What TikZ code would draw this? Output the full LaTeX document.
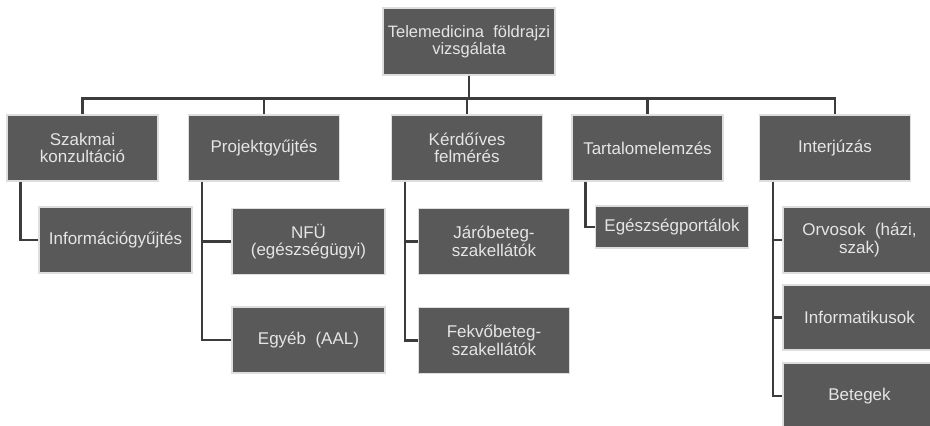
\documentclass[tikz,border=0pt]{standalone}
\usepackage{fontspec}
\setmainfont{Liberation Sans}
\usepackage{tikz}
\usetikzlibrary{calc}
\definecolor{boxgray}{HTML}{595959}
\definecolor{linkgray}{HTML}{3C3C3C}
\def\drawlink{\draw[link]}
\def\boxnode{\node[box]}

\begin{document}
\begin{tikzpicture}[x=1pt,y=-1pt,
  box/.style={rectangle,fill=boxgray,draw=black!13,line width=1.2pt,
    text=white!90!black,align=center,inner sep=1pt,
    minimum width=151pt,minimum height=66pt,
    font=\fontsize{17}{17.5}\selectfont},
  wide/.style={minimum width=153pt},
  link/.style={color=linkgray,line width=2.5pt}]
\useasboundingbox[fill=white] (0,0) rectangle (930,426);

% -------- top ---------
\boxnode[minimum width=172pt,minimum height=67pt,font=\fontsize{16.5}{17.5}\selectfont] (root) at (469,41.5) {Telemedicina\ \ földrajzi\\vizsgálata};
\coordinate (bar) at ($ (root.south) + (0,23) $); % where the horizontal bar starts

% -------- level 1 ---------
\boxnode (szakmai) at (82.5,148) {Szakmai\\konzultáció};
\boxnode (projekt) at (264,148) {Projektgyűjtés};
\boxnode (kerdoiv) at (467,148) {Kérdőíves\\felmérés};
\boxnode (tartalom) at (647.5,148) {Tartalomelemzés};
\boxnode (interju) at (835,148) {Interjúzás};

\foreach \k in {szakmai,projekt,kerdoiv,tartalom,interju}
  \drawlink (root.south) -- (bar) -| (\k.north);

% -------- level 2 ---------
\boxnode[wide] (info) at (115.5,240) {Információgyűjtés};
\boxnode[wide] (nfu) at (308.5,241.5) {NFÜ\\(egészségügyi)};
\boxnode[wide] (egyeb) at (308.5,340) {Egyéb\ \ (AAL)};
\boxnode (jaro) at (494,241.5) {Járóbeteg-\\szakellátók};
\boxnode (fekvo) at (494,340.5) {Fekvőbeteg-\\szakellátók};
\boxnode[wide,minimum height=42pt] (portal) at (672,227) {Egészségportálok};
\boxnode[wide] (orvos) at (859.5,240) {Orvosok\ \ (házi,\\szak)};
\boxnode[wide,minimum height=65pt] (informat) at (859.5,317.5) {Informatikusok};
\boxnode[wide] (betegek) at (859.5,396) {Betegek};

% the drops, 14pt in from the left edge of each parent
\drawlink ($ (szakmai.south west) + (14,0) $) |- (info.west);
\drawlink ($ (projekt.south west) + (14,0) $) |- (nfu.west);
\drawlink ($ (projekt.south west) + (14,0) $) |- (egyeb.west);
\drawlink ($ (kerdoiv.south west) + (14,0) $) |- (jaro.west);
\drawlink ($ (kerdoiv.south west) + (14,0) $) |- (fekvo.west);
\drawlink ($ (tartalom.south west) + (14,0) $) |- (portal.west);
\foreach \k in {orvos,informat,betegek}
  \drawlink ($ (interju.south west) + (14,0) $) |- (\k.west);
\end{tikzpicture}
\end{document}
